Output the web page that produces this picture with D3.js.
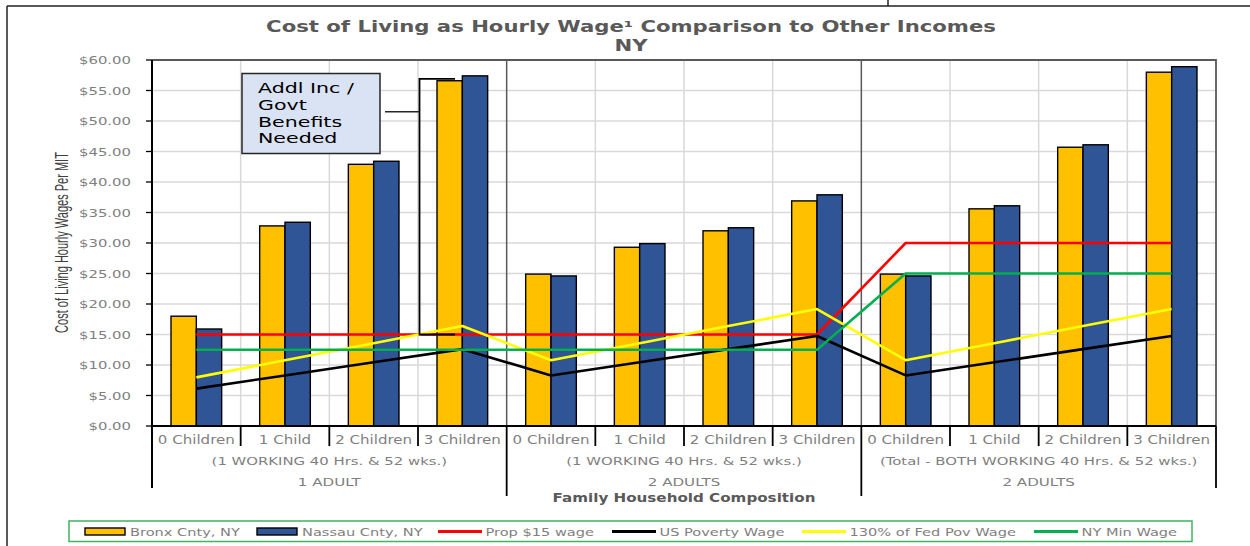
<!DOCTYPE html>
<html><head><meta charset="utf-8">
<script src="https://cdn.jsdelivr.net/npm/d3@7"></script>
<style>body{margin:0;background:#fff}</style>
</head><body>
<svg id="c" width="1250" height="546"></svg>
<script>
// ---------- DATA ----------
const categories = ["0 Children","1 Child","2 Children","3 Children","0 Children","1 Child","2 Children","3 Children","0 Children","1 Child","2 Children","3 Children"];
const groupWorkLabels = ["(1 WORKING 40 Hrs. & 52 wks.)","(1 WORKING 40 Hrs. & 52 wks.)","(Total - BOTH WORKING 40 Hrs. & 52 wks.)"];
const groupAdultLabels = ["1 ADULT","2 ADULTS","2 ADULTS"];
const bronx  = [18.0, 32.8, 42.9, 56.6, 24.9, 29.3, 32.0, 36.9, 24.9, 35.6, 45.7, 58.0];
const nassau = [15.9, 33.4, 43.4, 57.4, 24.6, 29.9, 32.5, 37.9, 24.6, 36.1, 46.1, 58.9];
const prop15 = [15, 15, 15, 15, 15, 15, 15, 15, 30, 30, 30, 30];
const usPoverty = [6.13, 8.29, 10.44, 12.60, 8.29, 10.44, 12.60, 14.75, 8.29, 10.44, 12.60, 14.75];
const fedPov130 = [7.97, 10.78, 13.57, 16.38, 10.78, 13.57, 16.38, 19.18, 10.78, 13.57, 16.38, 19.18];
const nyMin = [12.5, 12.5, 12.5, 12.5, 12.5, 12.5, 12.5, 12.5, 25, 25, 25, 25];
const yTicks = [0, 5, 10, 15, 20, 25, 30, 35, 40, 45, 50, 55, 60];
const barSeries = ["Bronx Cnty, NY", "Nassau Cnty, NY"];
const lineSeries = ["Prop $15 wage", "US Poverty Wage", "130% of Fed Pov Wage", "NY Min Wage"];
const annotationLines = ["Addl Inc /", "Govt", "Benefits", "Needed"];

// ---------- SETUP ----------
const svg = d3.select("#c");
const FONT = "DejaVu Sans";
const L = 152, R = 1216, T = 60, B = 426;

const x = d3.scaleBand().domain(d3.range(categories.length)).range([L, R]).padding(0);
const bw = x.bandwidth();
const x1 = d3.scaleBand().domain([0, 1]).range([0.2144 * bw, 0.7856 * bw]).padding(0);
const y = d3.scaleLinear().domain([0, 60]).range([B, T]);

function measure(s, size, weight, family) {
  const t = svg.append("text").text(s).attr("font-family", family || FONT)
    .attr("font-size", size).attr("font-weight", weight || "normal");
  const w = t.node().getComputedTextLength(); t.remove(); return w;
}
function txt(g, s, o) {
  return g.append("text").text(s)
    .attr("font-family", o.family || FONT).attr("font-size", o.size)
    .attr("font-weight", o.weight || "normal").attr("fill", o.fill || "#7f7f7f")
    .attr("text-anchor", o.anchor || "start")
    .attr("transform", `translate(${o.x},${o.y}) scale(${o.sx || 1},1)`);
}

// ---------- FRAME ----------
svg.append("line").attr("x1", 7).attr("x2", 7).attr("y1", 6).attr("y2", 546).attr("stroke", "#222").attr("stroke-width", 1.5);
svg.append("line").attr("x1", 7).attr("x2", 1250).attr("y1", 6).attr("y2", 6).attr("stroke", "#222").attr("stroke-width", 1.5);
svg.append("line").attr("x1", 888).attr("x2", 888).attr("y1", 0).attr("y2", 6).attr("stroke", "#222").attr("stroke-width", 1.5);

// ---------- TITLE ----------
const titleStr = "Cost of Living as Hourly Wage¹ Comparison to Other Incomes";
const sxTitle = 730 / measure(titleStr, 16, "bold");
txt(svg, titleStr, {x: 631, y: 32, size: 16, weight: "bold", fill: "#595959", anchor: "middle", sx: sxTitle});
txt(svg, "NY", {x: 631, y: 51, size: 16, weight: "bold", fill: "#595959", anchor: "middle", sx: sxTitle});

// ---------- GRID ----------
const grid = svg.append("g");
grid.selectAll("line.h").data(yTicks.filter(d => d > 0 && d < 60)).join("line")
  .attr("x1", L).attr("x2", R).attr("y1", d => y(d)).attr("y2", d => y(d))
  .attr("stroke", "#d9d9d9").attr("stroke-width", 1.5);
grid.selectAll("line.v").data(d3.range(1, categories.length).filter(i => i % 4 !== 0)).join("line")
  .attr("x1", i => x(i)).attr("x2", i => x(i)).attr("y1", T).attr("y2", B)
  .attr("stroke", "#d9d9d9").attr("stroke-width", 1.5);
grid.selectAll("line.g").data([4, 8]).join("line")
  .attr("x1", i => x(i)).attr("x2", i => x(i)).attr("y1", T).attr("y2", B)
  .attr("stroke", "#595959").attr("stroke-width", 1.5);
svg.append("path").attr("d", `M${L},${T}H${R}V${B}`).attr("fill", "none").attr("stroke", "#595959").attr("stroke-width", 1.8);

// ---------- BARS ----------
const barColors = ["#ffc000", "#2f5597"];
[bronx, nassau].forEach((vals, si) => {
  svg.append("g").selectAll("rect").data(vals).join("rect")
    .attr("x", (d, i) => x(i) + x1(si)).attr("width", x1.bandwidth())
    .attr("y", d => y(d)).attr("height", d => y(0) - y(d))
    .attr("fill", barColors[si]).attr("stroke", "#000").attr("stroke-width", 1.4);
});

// ---------- LINES ----------
const lineColors = ["#ff0000", "#000000", "#ffff00", "#00b050"];
const line = d3.line().x((d, i) => x(i) + bw / 2).y(d => y(d));
[prop15, usPoverty, fedPov130, nyMin].forEach((vals, si) => {
  svg.append("path").datum(vals).attr("d", line).attr("fill", "none")
    .attr("stroke", lineColors[si]).attr("stroke-width", 2.6).attr("stroke-linejoin", "round");
});

// ---------- Y AXIS ----------
const sxTick = 52 / measure("$60.00", 11);
const yAxisG = svg.append("g");
yTicks.forEach(t => {
  yAxisG.append("line").attr("x1", 146).attr("x2", L).attr("y1", y(t)).attr("y2", y(t)).attr("stroke", "#000").attr("stroke-width", 1.3);
  txt(yAxisG, d3.format("$.2f")(t), {x: 131, y: y(t) + 4, size: 11, fill: "#7f7f7f", anchor: "end", sx: sxTick});
});
svg.append("line").attr("x1", L).attr("x2", L).attr("y1", T).attr("y2", 488).attr("stroke", "#000").attr("stroke-width", 2);

const yTitle = "Cost of Living Hourly Wages Per MIT";
const sxYT = 181 / measure(yTitle, 17.5, "normal", "Liberation Sans");
svg.append("text").text(yTitle).attr("font-family", "Liberation Sans").attr("font-size", 17.5)
  .attr("fill", "#404040").attr("text-anchor", "middle")
  .attr("transform", `translate(68,242.5) rotate(-90) scale(${sxYT},1)`);

// ---------- X AXIS ----------
svg.append("line").attr("x1", L).attr("x2", R).attr("y1", B).attr("y2", B).attr("stroke", "#000").attr("stroke-width", 1.8);
d3.range(1, categories.length + 1).forEach(i => {
  const xx = i === categories.length ? R : x(i);
  const y2 = i === categories.length ? 488 : (i % 4 === 0 ? 496 : 446);
  svg.append("line").attr("x1", xx).attr("x2", xx).attr("y1", B).attr("y2", y2).attr("stroke", "#000").attr("stroke-width", 1.8);
});
const sxCat = 77 / measure("0 Children", 12);
categories.forEach((c, i) => txt(svg, c, {x: x(i) + bw / 2, y: 444, size: 12, fill: "#7f7f7f", anchor: "middle", sx: sxCat}));
const sxRow2 = 235.7 / measure(groupWorkLabels[0], 11);
const sxRow3 = 63 / measure(groupAdultLabels[0], 11);
groupWorkLabels.forEach((g, gi) => {
  const cx = (x(gi * 4) + (gi === 2 ? R : x(gi * 4 + 4))) / 2;
  txt(svg, g, {x: cx, y: 465, size: 11, fill: "#7f7f7f", anchor: "middle", sx: sxRow2});
  txt(svg, groupAdultLabels[gi], {x: cx, y: 486, size: 11, fill: "#7f7f7f", anchor: "middle", sx: sxRow3});
});
const xTitle = "Family Household Composition";
const sxXT = 263 / measure(xTitle, 12, "bold");
txt(svg, xTitle, {x: (x(4) + x(8)) / 2, y: 502, size: 12, weight: "bold", fill: "#595959", anchor: "middle", sx: sxXT});

// ---------- ANNOTATION ----------
const ann = svg.append("g");
const b3 = x(3);
ann.append("path").attr("d", `M${b3 + 37},${y(56.9)}H${b3 + 1.5}V${y(15)}H${b3 + 37}`)
  .attr("fill", "none").attr("stroke", "#000").attr("stroke-width", 1.8);
ann.append("line").attr("x1", 385).attr("x2", b3 + 1.5).attr("y1", 111.7).attr("y2", 111.7).attr("stroke", "#262626").attr("stroke-width", 1.5);
ann.append("rect").attr("x", 242).attr("y", 73.5).attr("width", 138).attr("height", 80)
  .attr("fill", "#dae3f3").attr("stroke", "#262626").attr("stroke-width", 1.5);
const sxAnn = 96 / measure(annotationLines[0], 14);
annotationLines.forEach((s, i) => txt(ann, s, {x: 258, y: 93 + i * 16.8, size: 14, fill: "#000", sx: sxAnn}));

// ---------- LEGEND ----------
const lg = svg.append("g");
lg.append("rect").attr("x", 69).attr("y", 521).attr("width", 1123).attr("height", 20.5)
  .attr("fill", "#fff").attr("stroke", "#3cb560").attr("stroke-width", 1.5);
const sxLeg = 110 / measure(barSeries[0], 11);
const barLegX = [85, 257];
barSeries.forEach((s, i) => {
  lg.append("rect").attr("x", barLegX[i]).attr("y", 528).attr("width", 40).attr("height", 7)
    .attr("fill", barColors[i]).attr("stroke", "#000").attr("stroke-width", 1.4);
  txt(lg, s, {x: barLegX[i] + 45, y: 535.5, size: 11, fill: "#7f7f7f", sx: sxLeg});
});
const lineLegX = [438, 612, 802, 1034];
lineSeries.forEach((s, i) => {
  lg.append("line").attr("x1", lineLegX[i]).attr("x2", lineLegX[i] + 44).attr("y1", 531.5).attr("y2", 531.5)
    .attr("stroke", lineColors[i]).attr("stroke-width", 3);
  txt(lg, s, {x: lineLegX[i] + 47.5, y: 535.5, size: 11, fill: "#7f7f7f", sx: sxLeg});
});
</script>
</body></html>
